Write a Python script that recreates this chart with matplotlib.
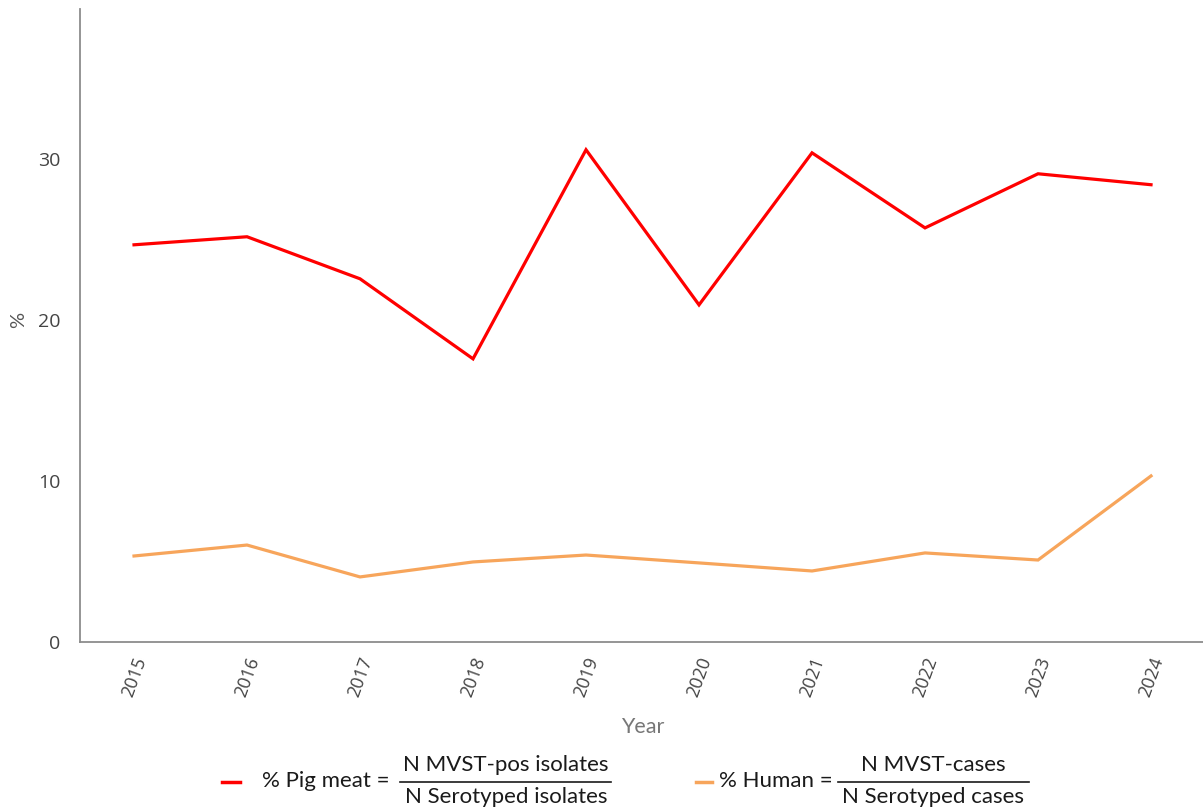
import matplotlib
matplotlib.use("Agg")
import matplotlib.pyplot as plt
from matplotlib.lines import Line2D

years = [2015, 2016, 2017, 2018, 2019, 2020, 2021, 2022, 2023, 2024]
pig_meat = [24.66, 25.16, 22.55, 17.58, 30.56, 20.93, 30.37, 25.71, 29.07, 28.39]
human = [5.34, 6.02, 4.04, 4.97, 5.40, 4.91, 4.41, 5.53, 5.09, 10.31]
y_ticks = [0, 10, 20, 30]

W, H = 1203, 811
fig = plt.figure(figsize=(W / 100, H / 100), dpi=100)
ax = fig.add_axes([80 / W, 1 - 642 / H, (W - 80) / W, (642 - 9) / H])

red = "#ff0000"
orange = "#f7a55b"
ax.plot(years, pig_meat, color=red, lw=2.3, solid_joinstyle="miter")
ax.plot(years, human, color=orange, lw=2.3, solid_joinstyle="miter")

ax.set_xlim(2014.522, 2024.46)
ax.set_ylim(0, 39.3)
ax.set_yticks(y_ticks)
ax.set_xticks(years)
ax.set_xticklabels([str(y) for y in years], rotation=70, ha="center", va="top",
                   fontsize=13, color="#444444", family="Open Sans")
ax.set_yticklabels([str(v) for v in y_ticks], fontsize=14, color="#444444", family="Open Sans")
ax.tick_params(axis="both", length=0)
ax.tick_params(axis="x", pad=9)
ax.tick_params(axis="y", pad=14)
for s in ["top", "right"]:
    ax.spines[s].set_visible(False)
for s in ["left", "bottom"]:
    ax.spines[s].set_color("#8c8c8c")
    ax.spines[s].set_linewidth(1.3)

fig.text(643 / W, 1 - 727 / H, "Year", ha="center", va="center", fontsize=15.5,
         color="#777777", family="Lato")
fig.text(19 / W, 1 - 320 / H, "%", ha="center", va="center", rotation=90,
         fontsize=14.5, color="#555555", family="Lato")

def fx(x):
    return x / W

def fy(y):
    return 1 - y / H

tcol = "#1a1a1a"
fs = 16
# legend entry 1
fig.add_artist(Line2D([fx(222), fx(240)], [fy(782), fy(782)], color=red, lw=2.5))
fig.text(fx(262), fy(781), "% Pig meat =", ha="left", va="center", fontsize=fs, color=tcol, family="Lato")
fig.text(fx(506), fy(765), "N MVST-pos isolates", ha="center", va="center", fontsize=fs, color=tcol, family="Lato")
fig.add_artist(Line2D([fx(400), fx(611)], [fy(782), fy(782)], color=tcol, lw=1.2))
fig.text(fx(506), fy(797), "N Serotyped isolates", ha="center", va="center", fontsize=fs, color=tcol, family="Lato")
# legend entry 2
fig.add_artist(Line2D([fx(696), fx(712)], [fy(782), fy(782)], color=orange, lw=2.5))
fig.text(fx(719), fy(781), "% Human =", ha="left", va="center", fontsize=fs, color=tcol, family="Lato")
fig.text(fx(933), fy(765), "N MVST-cases", ha="center", va="center", fontsize=fs, color=tcol, family="Lato")
fig.add_artist(Line2D([fx(838), fx(1029)], [fy(782), fy(782)], color=tcol, lw=1.2))
fig.text(fx(933), fy(797), "N Serotyped cases", ha="center", va="center", fontsize=fs, color=tcol, family="Lato")

fig.savefig("out.png", dpi=100)
